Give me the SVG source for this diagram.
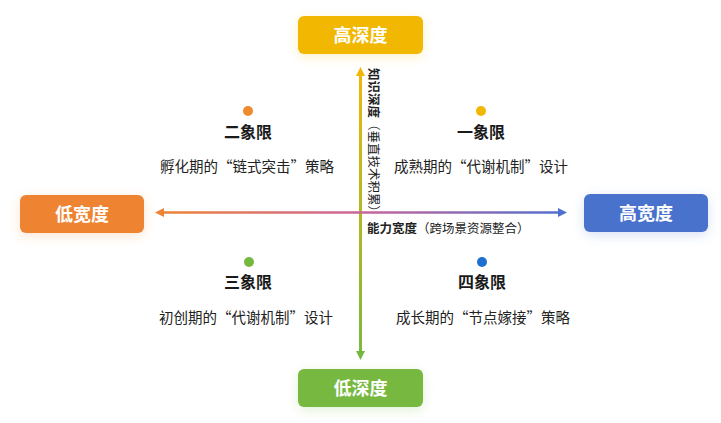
<svg xmlns="http://www.w3.org/2000/svg" width="721" height="423" viewBox="0 0 721 423">
  <defs>
    <style>
      .box-text { font-family: "Noto Sans CJK SC", "Noto Sans", sans-serif; font-size: 18px; font-weight: 700; fill: #ffffff; text-anchor: middle; }
      .q-title { font-family: "Noto Sans CJK SC", "Noto Sans", sans-serif; font-size: 16px; font-weight: 700; fill: #1a1a1a; text-anchor: middle; }
      .q-sub { font-family: "Noto Sans CJK SC", "Noto Sans", sans-serif; font-size: 14.5px; font-weight: 400; fill: #222222; text-anchor: middle; }
      .axis-label { font-family: "Noto Sans CJK SC", "Noto Sans", sans-serif; font-size: 12.5px; fill: #222222; }
      .axis-label .b { font-weight: 700; }
      .axis { fill: none; }
    </style>
    <filter id="glow" x="-30%" y="-60%" width="160%" height="220%">
      <feGaussianBlur in="SourceGraphic" stdDeviation="6" result="blur"/>
      <feOffset in="blur" dy="3" result="off"/>
      <feComponentTransfer in="off" result="soft">
        <feFuncA type="linear" slope="0.22"/>
      </feComponentTransfer>
      <feMerge>
        <feMergeNode in="soft"/>
        <feMergeNode in="SourceGraphic"/>
      </feMerge>
    </filter>
    <linearGradient id="gradV" gradientUnits="userSpaceOnUse" x1="0" y1="67" x2="0" y2="360">
      <stop offset="0" stop-color="#F2B705"/>
      <stop offset="1" stop-color="#76B83F"/>
    </linearGradient>
    <linearGradient id="gradH" gradientUnits="userSpaceOnUse" x1="155" y1="0" x2="567" y2="0">
      <stop offset="0" stop-color="#EE8433"/>
      <stop offset="0.5" stop-color="#C9669A"/>
      <stop offset="1" stop-color="#4F70CF"/>
    </linearGradient>
    <marker id="arrYellow" markerUnits="userSpaceOnUse" markerWidth="10" markerHeight="10" refX="2" refY="4.5" orient="auto-start-reverse">
      <path d="M0,0 L9,4.5 L0,9 z" fill="#F2B705"/>
    </marker>
    <marker id="arrGreen" markerUnits="userSpaceOnUse" markerWidth="10" markerHeight="10" refX="2" refY="4.5" orient="auto-start-reverse">
      <path d="M0,0 L9,4.5 L0,9 z" fill="#76B83F"/>
    </marker>
    <marker id="arrOrange" markerUnits="userSpaceOnUse" markerWidth="10" markerHeight="10" refX="2" refY="4.5" orient="auto-start-reverse">
      <path d="M0,0 L9,4.5 L0,9 z" fill="#EE8433"/>
    </marker>
    <marker id="arrBlue" markerUnits="userSpaceOnUse" markerWidth="10" markerHeight="10" refX="2" refY="4.5" orient="auto-start-reverse">
      <path d="M0,0 L9,4.5 L0,9 z" fill="#4F70CF"/>
    </marker>
  </defs>

  <rect width="721" height="423" fill="#ffffff"/>

  <g id="connectors">
    <line class="axis" x1="360.5" y1="74" x2="360.5" y2="353" stroke="url(#gradV)" stroke-width="3" marker-start="url(#arrYellow)" marker-end="url(#arrGreen)"/>
    <line class="axis" x1="162" y1="212.5" x2="560" y2="212.5" stroke="url(#gradH)" stroke-width="2.5" marker-start="url(#arrOrange)" marker-end="url(#arrBlue)"/>
    <text class="axis-label" transform="translate(368.5,68) rotate(90)"><tspan class="b">知识深度</tspan>（垂直技术积累）</text>
    <text class="axis-label" x="367" y="233"><tspan class="b">能力宽度</tspan>（跨场景资源整合）</text>
  </g>

  <g id="node-high-depth">
    <rect x="298" y="16" width="125" height="38" rx="6" fill="#F2B705" filter="url(#glow)"/>
    <text class="box-text" x="360.5" y="41.5">高深度</text>
  </g>
  <g id="node-low-depth">
    <rect x="298" y="369" width="125" height="38" rx="6" fill="#76B83F" filter="url(#glow)"/>
    <text class="box-text" x="360.5" y="394.5">低深度</text>
  </g>
  <g id="node-low-width">
    <rect x="20" y="195" width="124" height="38" rx="6" fill="#EE8433" filter="url(#glow)"/>
    <text class="box-text" x="82" y="220.5">低宽度</text>
  </g>
  <g id="node-high-width">
    <rect x="584" y="194" width="124" height="38" rx="6" fill="#4A72CC" filter="url(#glow)"/>
    <text class="box-text" x="646" y="219.5">高宽度</text>
  </g>

  <g id="quadrant-2">
    <circle cx="248" cy="111" r="5" fill="#F08A2E"/>
    <text class="q-title" x="248" y="138">二象限</text>
    <text class="q-sub" x="247" y="172">孵化期的“链式突击”策略</text>
  </g>
  <g id="quadrant-1">
    <circle cx="481" cy="111" r="5" fill="#F2B705"/>
    <text class="q-title" x="481" y="138">一象限</text>
    <text class="q-sub" x="481" y="172">成熟期的“代谢机制”设计</text>
  </g>
  <g id="quadrant-3">
    <circle cx="249" cy="262" r="5" fill="#76B83F"/>
    <text class="q-title" x="248" y="288">三象限</text>
    <text class="q-sub" x="246" y="323">初创期的“代谢机制”设计</text>
  </g>
  <g id="quadrant-4">
    <circle cx="482" cy="262" r="5" fill="#1E6FD0"/>
    <text class="q-title" x="482" y="288">四象限</text>
    <text class="q-sub" x="483" y="323">成长期的“节点嫁接”策略</text>
  </g>
</svg>
